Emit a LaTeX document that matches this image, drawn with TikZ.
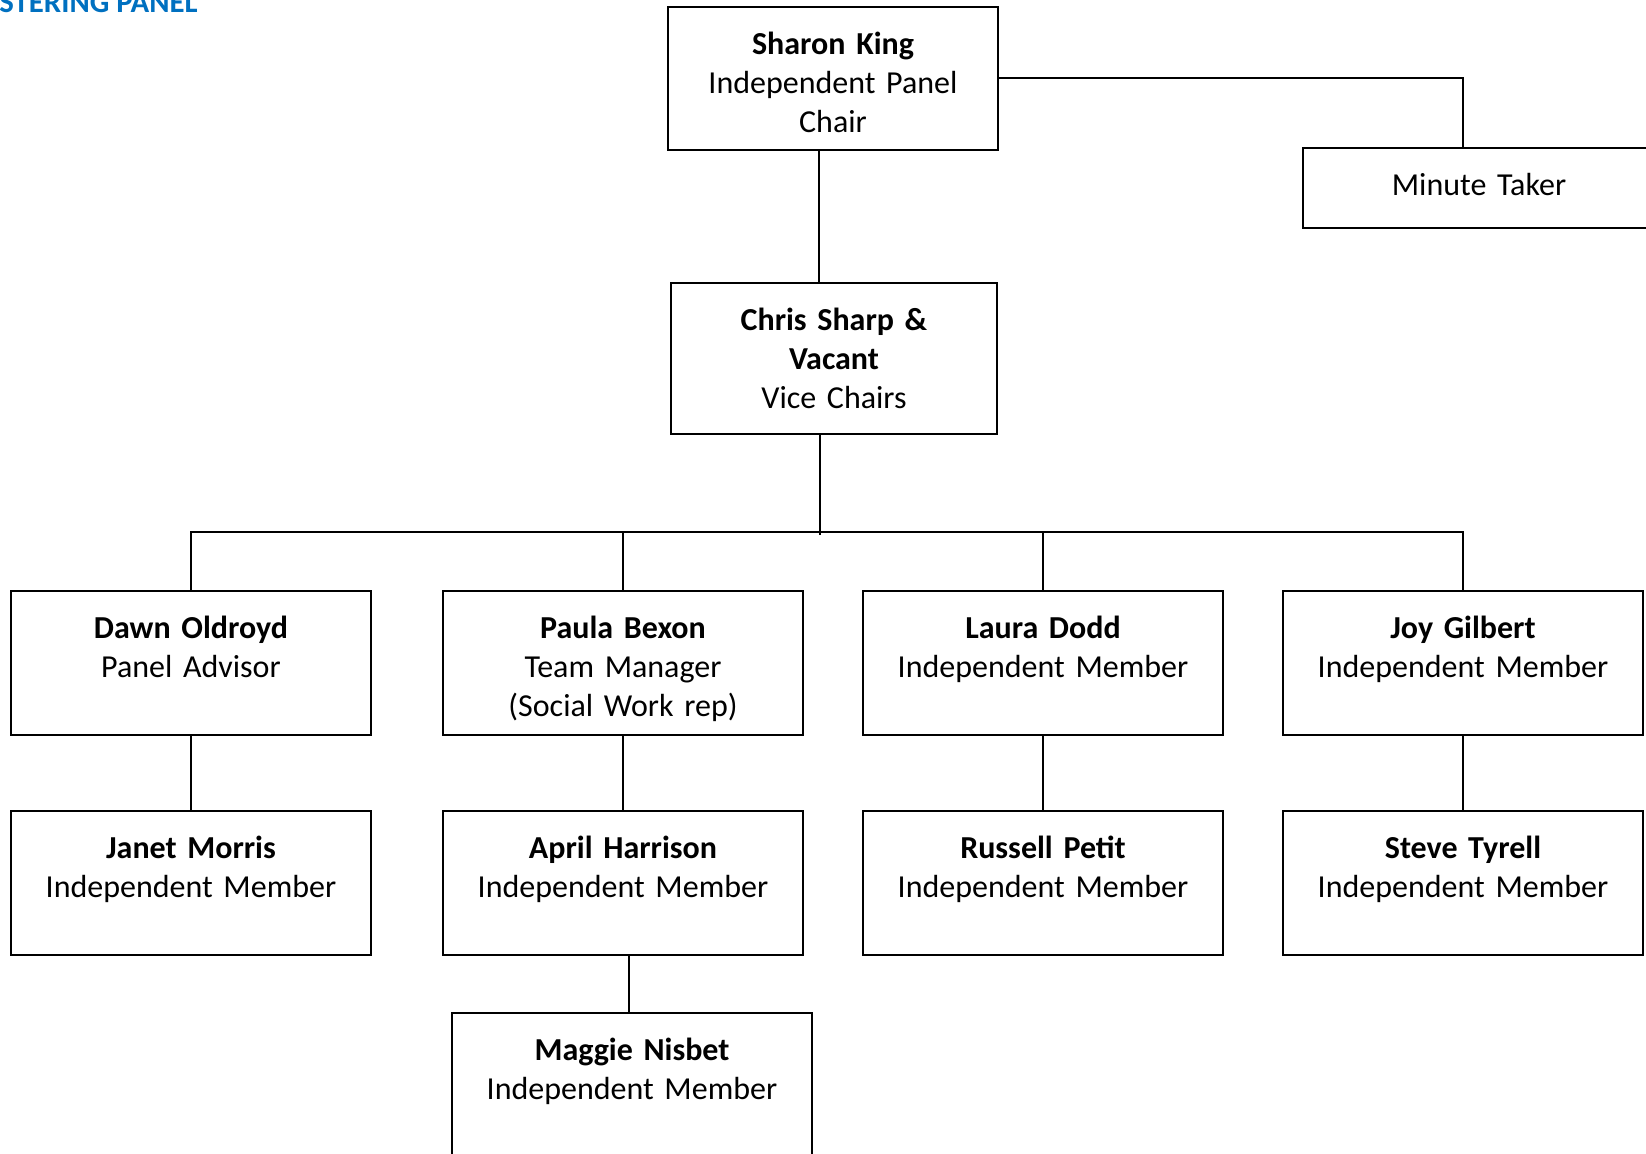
\documentclass[tikz,border=0pt]{standalone}
\usepackage{fontspec}
\setmainfont{Carlito}
\definecolor{titleblue}{HTML}{0070C0}
\tikzset{
  orgbox/.style={draw, line width=1pt, inner sep=0pt, minimum width=180pt, minimum height=72pt},
  lbl/.style={text width=175pt, align=center, anchor=base, inner sep=0pt, font=\fontsize{16}{19.5}\selectfont},
  conn/.style={line width=1pt}
}
\begin{document}
\begin{tikzpicture}[x=0.5pt, y=-0.5pt]
\useasboundingbox (0,0) rectangle (1646,1154);
\clip (0,0) rectangle (1646,1154);

\node[anchor=base west, inner sep=0pt, font=\bfseries\fontsize{15.4}{18}\selectfont, text=titleblue] (title) at (-1,13) {STERING PANEL};

% boxes
\node[orgbox, minimum width=165pt, minimum height=71.5pt] (sharon) at (833,78.5) {};
\node[orgbox, minimum height=40pt] (minute) at (1483,188) {};
\node[orgbox, minimum width=163pt, minimum height=75.5pt] (chris) at (834,358.5) {};
\node[orgbox] (dawn)  at (191,663) {};
\node[orgbox] (paula) at (623,663) {};
\node[orgbox] (laura) at (1043,663) {};
\node[orgbox] (joy)   at (1463,663) {};
\node[orgbox] (janet)   at (191,883) {};
\node[orgbox] (april)   at (623,883) {};
\node[orgbox] (russell) at (1043,883) {};
\node[orgbox] (steve)   at (1463,883) {};
\node[orgbox] (maggie)  at (632,1085) {};

% labels
\node[lbl] (sharon-t) at ([yshift=-24.5pt]sharon.north) {\textbf{Sharon King}\\Independent Panel\\Chair};
\node[lbl] (minute-t) at ([yshift=-24.5pt,xshift=-2pt]minute.north) {Minute Taker};
\node[lbl] (chris-t) at ([yshift=-24.5pt]chris.north) {\textbf{Chris Sharp \&}\\\textbf{Vacant}\\Vice Chairs};
\node[lbl] (dawn-t) at ([yshift=-24.5pt]dawn.north) {\textbf{Dawn Oldroyd}\\Panel Advisor};
\node[lbl] (paula-t) at ([yshift=-24.5pt]paula.north) {\textbf{Paula Bexon}\\Team Manager\\(Social Work rep)};
\node[lbl] (laura-t) at ([yshift=-24.5pt]laura.north) {\textbf{Laura Dodd}\\Independent Member};
\node[lbl] (joy-t) at ([yshift=-24.5pt]joy.north) {\textbf{Joy Gilbert}\\Independent Member};
\node[lbl] (janet-t) at ([yshift=-24.5pt]janet.north) {\textbf{Janet Morris}\\Independent Member};
\node[lbl] (april-t) at ([yshift=-24.5pt]april.north) {\textbf{April Harrison}\\Independent Member};
\node[lbl] (russell-t) at ([yshift=-24.5pt]russell.north) {\textbf{Russell Petit}\\Independent Member};
\node[lbl] (steve-t) at ([yshift=-24.5pt]steve.north) {\textbf{Steve Tyrell}\\Independent Member};
\node[lbl] (maggie-t) at ([yshift=-24.5pt]maggie.north) {\textbf{Maggie Nisbet}\\Independent Member};

% helper coordinates
\coordinate (vx) at (819,0);
\coordinate (mt) at (1463,0);
\coordinate (bar) at (820,532);
\coordinate (barend) at (820,535);
\coordinate (mg) at (629,0);

% connectors
\draw[conn] (sharon.south -| vx) -- (chris.north -| vx);
\draw[conn] (sharon.east) -| (minute.north -| mt);
\draw[conn] (chris.south -| bar) -- (barend);
\draw[conn] (dawn.north) -- (dawn.north |- bar) -- (joy.north |- bar) -- (joy.north);
\draw[conn] (paula.north) -- (paula.north |- bar);
\draw[conn] (laura.north) -- (laura.north |- bar);
\draw[conn] (dawn.south) -- (janet.north);
\draw[conn] (paula.south) -- (april.north);
\draw[conn] (laura.south) -- (russell.north);
\draw[conn] (joy.south) -- (steve.north);
\draw[conn] (april.south -| mg) -- (maggie.north -| mg);
\end{tikzpicture}
\end{document}
